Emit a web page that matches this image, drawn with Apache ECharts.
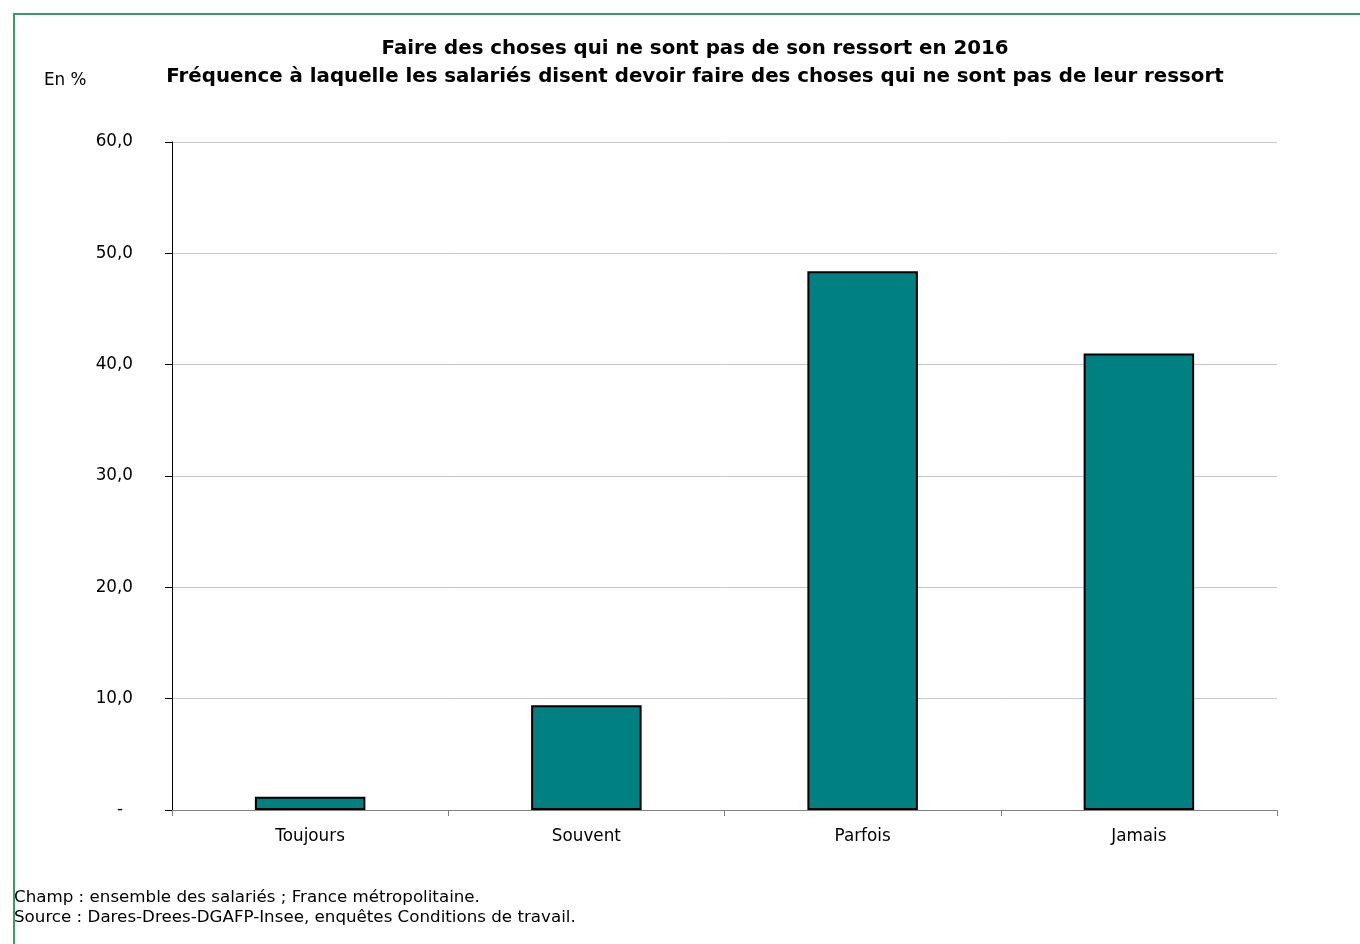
<!DOCTYPE html>
<html>
<head>
<meta charset="utf-8">
<script src="https://cdn.jsdelivr.net/npm/echarts@6/dist/echarts.min.js"></script>
<style>
  html, body { margin: 0; padding: 0; background: #fff; }
  #frame { position: absolute; left: 13px; top: 13px; width: 1360px; height: 944px; border-top: 2px solid #3a9a6a; border-left: 2px solid #3a9a6a; box-sizing: border-box; }
  #chart { position: absolute; left: 0; top: 0; width: 1360px; height: 944px; }
</style>
</head>
<body>
<div id="frame"></div>
<div id="chart"></div>
<script>
const categories = ['Toujours', 'Souvent', 'Parfois', 'Jamais'];
const values = [1.2, 9.4, 48.4, 41.0];
const titleLines = ['Faire des choses qui ne sont pas de son ressort en 2016', 'Fréquence à laquelle les salariés disent devoir faire des choses qui ne sont pas de leur ressort'];
const unitLabel = 'En %';
const notes = ['Champ : ensemble des salariés ; France métropolitaine.', 'Source : Dares-Drees-DGAFP-Insee, enquêtes Conditions de travail.'];

const font = '"DejaVu Sans", Verdana, sans-serif';
const chart = echarts.init(document.getElementById('chart'), null, { renderer: 'canvas' });
chart.setOption({
  backgroundColor: 'transparent',
  animation: false,
  title: [
    { text: titleLines.join('\n'), left: 695, top: 35, padding: 0, textAlign: 'center',
      textStyle: { fontFamily: font, fontSize: 19.8, fontWeight: 'bold', color: '#000', lineHeight: 28 } },
    { text: unitLabel, left: 44, top: 71, padding: 0, textStyle: { fontFamily: font, fontSize: 16.8, fontWeight: 'normal', color: '#000', lineHeight: 20 } },
    { text: notes.join('\n'), left: 14, top: 888, padding: 0, textStyle: { fontFamily: font, fontSize: 16.7, fontWeight: 'normal', color: '#000', lineHeight: 20 } }
  ],
  grid: { left: 172, right: 83, top: 142, bottom: 134, containLabel: false },
  xAxis: {
    type: 'category',
    data: categories,
    axisLine: { lineStyle: { color: '#808080', width: 1 } },
    axisTick: { show: true, length: 6, alignWithLabel: false, lineStyle: { color: '#808080' } },
    axisLabel: { fontFamily: font, fontSize: 16.8, color: '#000', margin: 18 }
  },
  yAxis: {
    type: 'value',
    min: 0, max: 60, interval: 10,
    axisLine: { show: true, lineStyle: { color: '#000', width: 1 } },
    axisTick: { show: true, length: 7, lineStyle: { color: '#000' } },
    splitLine: { show: true, lineStyle: { color: '#c8c8c8', width: 1 } },
    axisLabel: {
      fontFamily: font, fontSize: 16.8, color: '#000', margin: 39,
      formatter: function (v) { return v === 0 ? '{z|-}' : v.toFixed(1).replace('.', ','); },
      rich: { z: { fontFamily: font, fontSize: 16.8, color: '#000', padding: [0, 10, 0, 0] } }
    }
  },
  series: [{
    type: 'bar',
    data: values,
    barWidth: '40%',
    itemStyle: { color: '#008080', borderColor: '#000', borderWidth: 2 }
  }]
});
</script>
</body>
</html>
